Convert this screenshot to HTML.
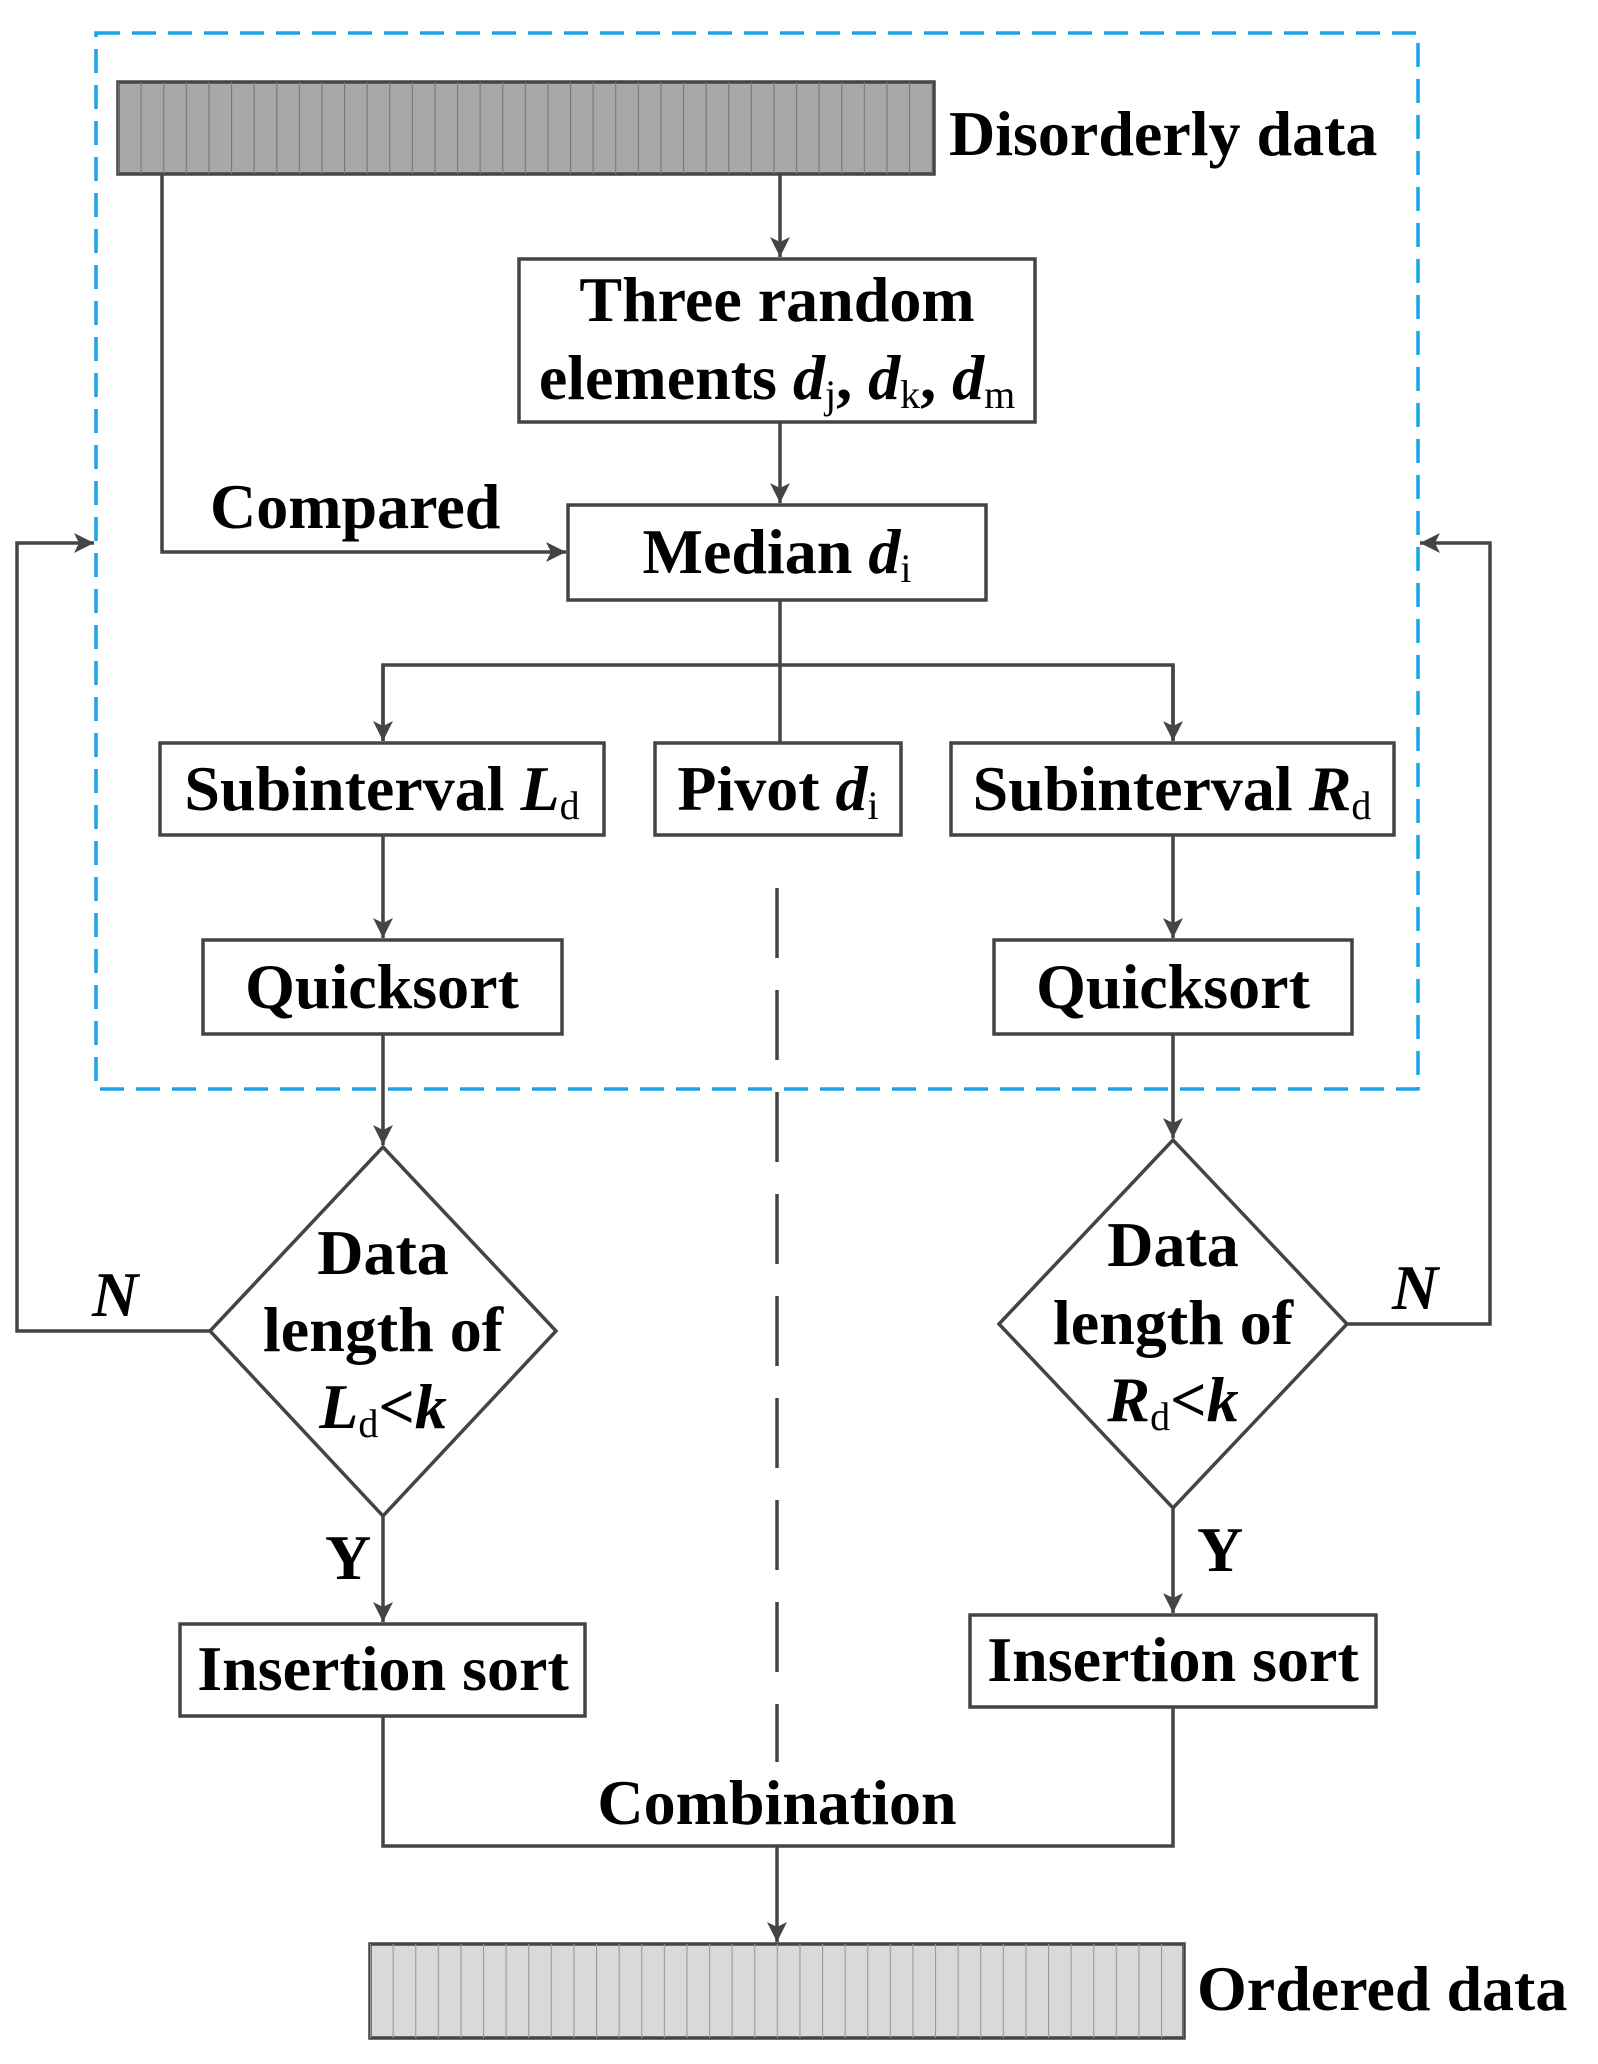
<!DOCTYPE html>
<html><head><meta charset="utf-8"><style>
html,body{margin:0;padding:0;background:#fff}
svg{display:block}
text{font-family:"Liberation Serif",serif;font-weight:bold;fill:#000}
</style></head><body>
<svg width="1598" height="2064" viewBox="0 0 1598 2064" xmlns="http://www.w3.org/2000/svg">
<defs>
<pattern id="st" x="118" y="0" width="22.6" height="10" patternUnits="userSpaceOnUse">
<line x1="0.5" y1="0" x2="0.5" y2="10" stroke="#777" stroke-width="1.2"/></pattern>
<pattern id="st2" x="370" y="0" width="22.6" height="10" patternUnits="userSpaceOnUse">
<line x1="0.5" y1="0" x2="0.5" y2="10" stroke="#999" stroke-width="1.2"/></pattern>
<marker id="b" markerWidth="20" markerHeight="20" refX="16" refY="8" orient="auto" markerUnits="userSpaceOnUse" viewBox="0 0 16 16">
<path d="M0,0 L16,8 L0,16 L4,8 z" fill="#444"/></marker>
</defs>
<rect x="96" y="33" width="1322" height="1056" fill="none" stroke="#1aa3e8" stroke-width="3.5" stroke-dasharray="24,12"/>
<rect x="118" y="82" width="816" height="92" fill="#a8a8a8" stroke="#444" stroke-width="3.5"/>
<rect x="118" y="82" width="816" height="92" fill="url(#st)"/>
<rect x="370" y="1944" width="814" height="94" fill="#d9d9d9" stroke="#444" stroke-width="3.5"/>
<rect x="370" y="1944" width="814" height="94" fill="url(#st2)"/>
<g stroke="#444" stroke-width="3.5" fill="#fff">
<rect x="519" y="259" width="516" height="163"/>
<rect x="568" y="505" width="418" height="95"/>
<rect x="160" y="743" width="444" height="92"/>
<rect x="655" y="743" width="246" height="92"/>
<rect x="951" y="743" width="443" height="92"/>
<rect x="203" y="940" width="359" height="94"/>
<rect x="994" y="940" width="358" height="94"/>
<polygon points="383,1147 556,1331 383,1516 210,1331"/>
<polygon points="1173,1140 1347,1324 1173,1508 999,1324"/>
<rect x="180" y="1624" width="405" height="92"/>
<rect x="970" y="1615" width="406" height="92"/>
</g>
<g stroke="#444" stroke-width="3.5" fill="none">
<line x1="780" y1="174" x2="780" y2="257" marker-end="url(#b)"/>
<line x1="780" y1="422" x2="780" y2="503" marker-end="url(#b)"/>
<polyline points="162,174 162,552 566,552" marker-end="url(#b)"/>
<line x1="780" y1="600" x2="780" y2="743"/>
<polyline points="383,741 383,665 1173,665 1173,741"/>
<line x1="383" y1="665" x2="383" y2="741" marker-end="url(#b)"/>
<line x1="1173" y1="665" x2="1173" y2="741" marker-end="url(#b)"/>
<line x1="383" y1="835" x2="383" y2="938" marker-end="url(#b)"/>
<line x1="1173" y1="835" x2="1173" y2="938" marker-end="url(#b)"/>
<line x1="383" y1="1034" x2="383" y2="1145" marker-end="url(#b)"/>
<line x1="1173" y1="1034" x2="1173" y2="1138" marker-end="url(#b)"/>
<polyline points="210,1331 17,1331 17,543 94,543" marker-end="url(#b)"/>
<polyline points="1347,1324 1490,1324 1490,543 1420,543" marker-end="url(#b)"/>
<line x1="383" y1="1516" x2="383" y2="1622" marker-end="url(#b)"/>
<line x1="1173" y1="1508" x2="1173" y2="1613" marker-end="url(#b)"/>
<polyline points="383,1716 383,1846 1173,1846 1173,1707"/>
<line x1="777" y1="1846" x2="777" y2="1942" marker-end="url(#b)"/>
<line x1="777" y1="888" x2="777" y2="1762" stroke-dasharray="70,32"/>
</g>
<g font-size="64">
<text x="949" y="155">Disorderly data</text>
<text x="777" y="321" text-anchor="middle">Three random</text>
<text x="777" y="399" text-anchor="middle">elements <tspan font-style="italic">d</tspan><tspan font-size="40" font-weight="normal" dy="9">j</tspan><tspan dy="-9">, </tspan><tspan font-style="italic">d</tspan><tspan font-size="40" font-weight="normal" dy="9">k</tspan><tspan dy="-9">, </tspan><tspan font-style="italic">d</tspan><tspan font-size="40" font-weight="normal" dy="9">m</tspan></text>
<text x="210" y="528">Compared</text>
<text x="777" y="573" text-anchor="middle">Median <tspan font-style="italic">d</tspan><tspan font-size="40" font-weight="normal" dy="9">i</tspan></text>
<text x="382" y="810" text-anchor="middle">Subinterval <tspan font-style="italic">L</tspan><tspan font-size="40" font-weight="normal" dy="9">d</tspan></text>
<text x="778" y="810" text-anchor="middle">Pivot <tspan font-style="italic">d</tspan><tspan font-size="40" font-weight="normal" dy="9">i</tspan></text>
<text x="1172" y="810" text-anchor="middle">Subinterval <tspan font-style="italic">R</tspan><tspan font-size="40" font-weight="normal" dy="9">d</tspan></text>
<text x="382" y="1008" text-anchor="middle">Quicksort</text>
<text x="1173" y="1008" text-anchor="middle">Quicksort</text>
<text x="383" y="1274" text-anchor="middle">Data</text>
<text x="383" y="1351" text-anchor="middle">length of</text>
<text x="383" y="1428" text-anchor="middle"><tspan font-style="italic">L</tspan><tspan font-size="40" font-weight="normal" dy="9">d</tspan><tspan dy="-9">&lt;</tspan><tspan font-style="italic">k</tspan></text>
<text x="1173" y="1266" text-anchor="middle">Data</text>
<text x="1173" y="1344" text-anchor="middle">length of</text>
<text x="1173" y="1421" text-anchor="middle"><tspan font-style="italic">R</tspan><tspan font-size="40" font-weight="normal" dy="9">d</tspan><tspan dy="-9">&lt;</tspan><tspan font-style="italic">k</tspan></text>
<text x="92" y="1316" font-style="italic">N</text>
<text x="1392" y="1309" font-style="italic">N</text>
<text x="325" y="1579">Y</text>
<text x="1197" y="1571">Y</text>
<text x="383" y="1690" text-anchor="middle">Insertion sort</text>
<text x="1173" y="1681" text-anchor="middle">Insertion sort</text>
<text x="777" y="1824" text-anchor="middle">Combination</text>
<text x="1197" y="2010">Ordered data</text>
</g>
</svg>
</body></html>
